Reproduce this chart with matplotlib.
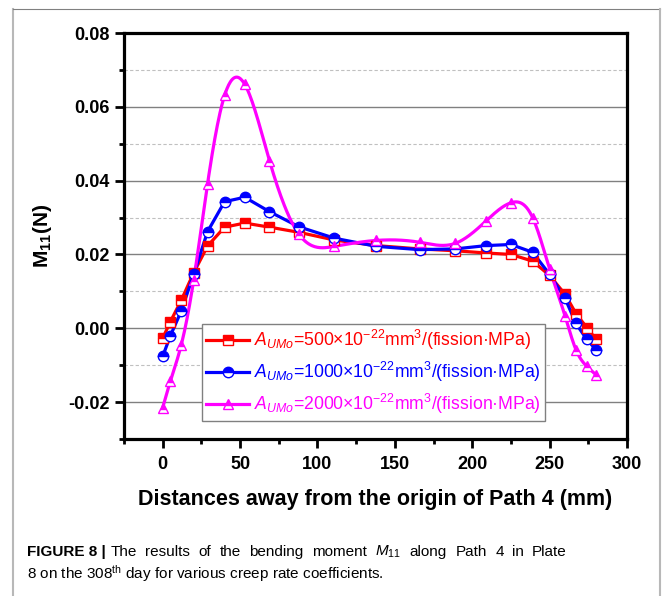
import numpy as np
import matplotlib
matplotlib.use("Agg")
import matplotlib.pyplot as plt
from matplotlib.lines import Line2D
from matplotlib.ticker import MultipleLocator, FormatStrFormatter

plt.rcParams["font.family"] = ["Liberation Sans", "DejaVu Sans"]
plt.rcParams["mathtext.fontset"] = "custom"
plt.rcParams["mathtext.rm"] = "Liberation Sans"
plt.rcParams["mathtext.it"] = "Liberation Sans:italic"
plt.rcParams["mathtext.bf"] = "Liberation Sans:bold"

# distance along Path 4 (mm)
dist = [0, 5, 12, 20, 29, 40, 53, 69, 88, 111, 138, 166, 189, 209, 225, 239, 250, 260, 267, 274, 280]

m11_500 = [-0.0027, 0.0018, 0.0076, 0.0150, 0.0223, 0.0274, 0.0285, 0.0274, 0.0260, 0.0239,
           0.0224, 0.0215, 0.0210, 0.0204, 0.0200, 0.0182, 0.0143, 0.0092, 0.0040, 0.0002, -0.0030]
m11_1000 = [-0.0076, -0.0020, 0.0047, 0.0146, 0.0262, 0.0343, 0.0355, 0.0316, 0.0275, 0.0244,
            0.0222, 0.0213, 0.0215, 0.0224, 0.0227, 0.0206, 0.0146, 0.0081, 0.0013, -0.0030, -0.0058]
m11_2000 = [-0.0215, -0.0143, -0.0045, 0.0130, 0.0392, 0.0631, 0.0661, 0.0454, 0.0255, 0.0222,
            0.0238, 0.0233, 0.0230, 0.0291, 0.0340, 0.0300, 0.0161, 0.0033, -0.0058, -0.0103, -0.0126]

labels = [
    r"$A_{UMo}$=500×10$^{-22}$mm$^3$/(fission·MPa)",
    r"$A_{UMo}$=1000×10$^{-22}$mm$^3$/(fission·MPa)",
    r"$A_{UMo}$=2000×10$^{-22}$mm$^3$/(fission·MPa)",
]

caption_line1 = r"The results of the bending moment $M_{11}$ along Path 4 in Plate"
caption_line2 = r"8 on the 308$^{\mathrm{th}}$ day for various creep rate coefficients."


def natural_spline(x, y, n=500):
    # smooth connecting line like Origin's spline
    x = np.asarray(x, float)
    y = np.asarray(y, float)
    h = np.diff(x)
    nn = len(x)
    A = np.zeros((nn, nn))
    b = np.zeros(nn)
    A[0, 0] = A[-1, -1] = 1
    for i in range(1, nn - 1):
        A[i, i - 1] = h[i - 1]
        A[i, i] = 2 * (h[i - 1] + h[i])
        A[i, i + 1] = h[i]
        b[i] = 3 * ((y[i + 1] - y[i]) / h[i] - (y[i] - y[i - 1]) / h[i - 1])
    c = np.linalg.solve(A, b)
    bc = (y[1:] - y[:-1]) / h - h * (2 * c[:-1] + c[1:]) / 3
    d = (c[1:] - c[:-1]) / (3 * h)
    xs = np.linspace(x[0], x[-1], n)
    idx = np.clip(np.searchsorted(x, xs) - 1, 0, nn - 2)
    dx = xs - x[idx]
    return xs, y[idx] + bc[idx] * dx + c[idx] * dx ** 2 + d[idx] * dx ** 3


W, H = 663, 596
fig = plt.figure(figsize=(W / 100, H / 100), dpi=100)
ax = fig.add_axes([124 / W, 1 - 439 / H, 503 / W, 406 / H])

series = [
    (m11_500, "#ff0000", "s", 6.5, False),
    (m11_1000, "#0000ff", "o", 7.5, False),
    (m11_2000, "#ff00ff", "^", 7.5, True),
]
handles = []
for (vals, col, mk, ms, smooth), lab in zip(series, labels):
    if smooth:
        xs, ys = natural_spline(dist, vals)
    else:
        xs, ys = dist, vals
    ax.plot(xs, ys, color=col, lw=2.3, zorder=3)
    ax.plot(dist, vals, ls="none", marker=mk, ms=ms, color=col, mec=col, mew=1.0,
            fillstyle="top", markerfacecoloralt="white", zorder=4)
    handles.append(Line2D([], [], color=col, lw=2.3, marker=mk, ms=ms, mec=col, mew=1.0,
                          fillstyle="top", markerfacecoloralt="white"))

ax.set_xlim(-25, 300)
ax.set_ylim(-0.03, 0.08)
ax.xaxis.set_major_locator(MultipleLocator(50))
ax.xaxis.set_minor_locator(MultipleLocator(25))
ax.yaxis.set_major_locator(MultipleLocator(0.02))
ax.yaxis.set_minor_locator(MultipleLocator(0.01))
ax.set_xticks([0, 50, 100, 150, 200, 250, 300])
ax.yaxis.set_major_formatter(FormatStrFormatter("%.2f"))

ax.grid(axis="y", which="major", color="#808080", lw=1.0, ls="-")
ax.grid(axis="y", which="minor", color="#c0c0c0", lw=0.8, ls=(0, (3, 2)))
ax.set_axisbelow(True)

for s in ax.spines.values():
    s.set_linewidth(2.3)
ax.tick_params(which="major", direction="out", length=6.5, width=2, labelsize=13, pad=4)
ax.tick_params(which="minor", direction="out", length=3.5, width=2)
ax.tick_params(axis="x", which="major", pad=6)
for t in ax.get_xticklabels() + ax.get_yticklabels():
    t.set_fontweight("bold")

ax.set_xlabel("Distances away from the origin of Path 4 (mm)", fontsize=15.5,
              fontweight="bold", labelpad=11)
ax.set_ylabel(r"M$_{\mathbf{11}}$(N)", fontsize=15, fontweight="bold", labelpad=10)

leg = ax.legend(handles, labels, loc="lower left", bbox_to_anchor=(0.155, 0.045),
                fontsize=12.7, labelcolor="linecolor", frameon=True, fancybox=False,
                edgecolor="#808080", framealpha=1, handlelength=2.4, handletextpad=0.3,
                labelspacing=0.45, borderpad=0.25, borderaxespad=0, numpoints=1)
leg.get_frame().set_linewidth(1.0)

# caption (first line justified to the right margin like the journal layout)
cap_fs = 11
renderer = fig.canvas.get_renderer()
bold = fig.text(27 / W, 1 - 552 / H, "FIGURE 8 |", fontsize=cap_fs, fontweight="bold",
                va="center")
bx1 = bold.get_window_extent(renderer).x1
txts = [fig.text(0, 1 - 552 / H, w, fontsize=cap_fs, va="center")
        for w in caption_line1.split(" ")]
widths = [t.get_window_extent(renderer).width for t in txts]
start, end = bx1 + 5, 567
gap = (end - start - sum(widths)) / (len(txts) - 1)
xpos = start
for t, w in zip(txts, widths):
    t.set_x(xpos / W)
    xpos += w + gap
fig.text(27 / W, 1 - 574 / H, caption_line2, fontsize=cap_fs, va="center")

# page frame
fig.add_artist(Line2D([13 / W, 13 / W], [0, 1 - 9 / H], transform=fig.transFigure,
                      color="#b8b8b8", lw=1.5))
fig.add_artist(Line2D([13 / W, 660 / W], [1 - 9 / H, 1 - 9 / H],
                      transform=fig.transFigure, color="#808080", lw=0.8))
fig.add_artist(Line2D([660 / W, 660 / W], [0, 1 - 9 / H], transform=fig.transFigure,
                      color="#b8b8b8", lw=1.5))

fig.savefig("out.png", dpi=100)
